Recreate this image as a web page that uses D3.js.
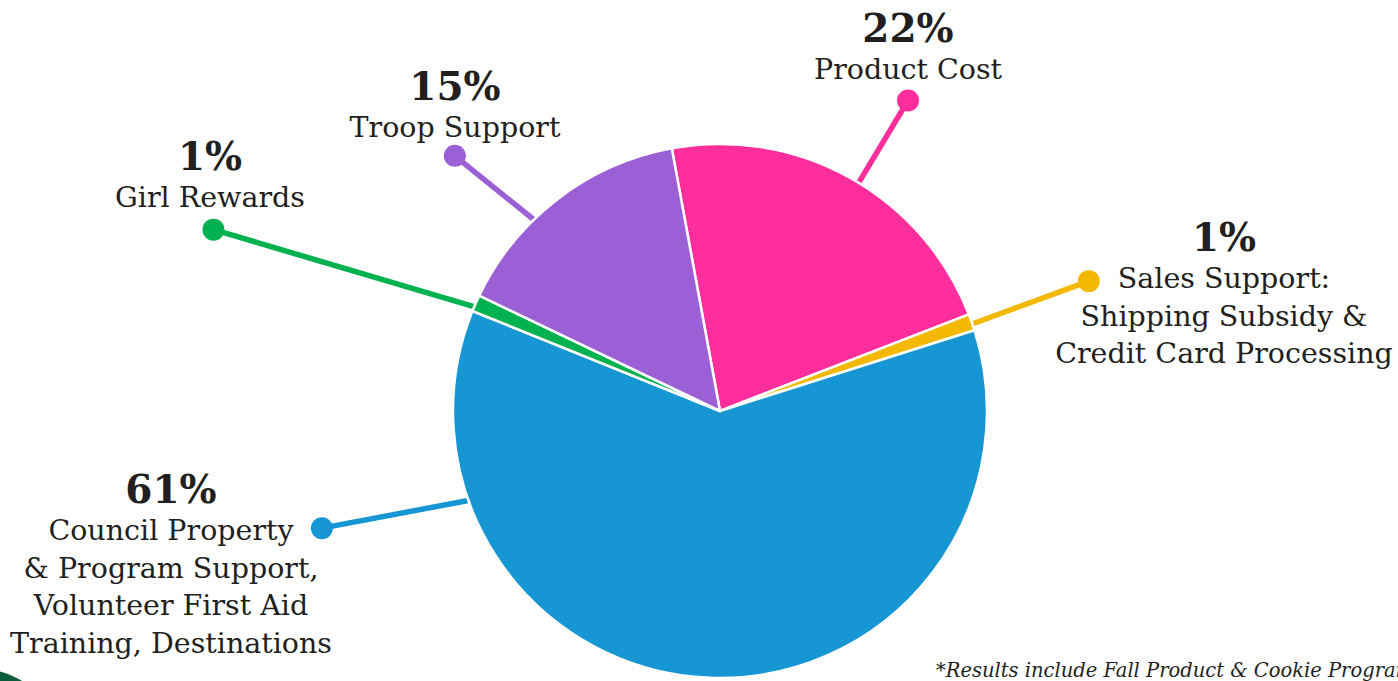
<!DOCTYPE html>
<html>
<head>
<meta charset="utf-8">
<script src="https://cdn.jsdelivr.net/npm/d3@7"></script>
<style>
  html, body { margin: 0; padding: 0; background: #fff; overflow: hidden; }
  svg { display: block; }
</style>
</head>
<body>
<script>
const categories = ['Product Cost', 'Sales Support', 'Council Property', 'Girl Rewards', 'Troop Support'];
const values = [22, 1, 61, 1, 15];
const percentLabels = ['22%', '1%', '61%', '1%', '15%'];
const labelLines = [
  ['Product Cost'],
  ['Sales Support:', 'Shipping Subsidy &', 'Credit Card Processing'],
  ['Council Property', '& Program Support,', 'Volunteer First Aid', 'Training, Destinations'],
  ['Girl Rewards'],
  ['Troop Support']
];
const colors = ['#ff2e9c', '#f5b800', '#1796d4', '#00b14f', '#9b5fd6'];
const footnote = '*Results include Fall Product & Cookie Program';

const width = 1398;
const height = 681;
const cx = 720;
const cy = 411;
const radius = 267;

// leader line: [start angle, start r, dot angle, dot r] (degrees from 12 o'clock)
const leaders = [
  [31.3, 255, 31.2, 363],
  [71, 255, 70.6, 391],
  [-110, 255, -106.4, 415],
  [-66.7, 255, -70.3, 538],
  [-43.9, 255, -46.1, 368]
];
// label block anchor: centre x, baseline of the percentage
const labelPos = [
  [908, 42],
  [1224, 251],
  [171, 503],
  [210, 170],
  [455, 100]
];

const rad = d => d * Math.PI / 180;
const polar = (a, r) => [cx + r * Math.sin(rad(a)), cy - r * Math.cos(rad(a))];

const svg = d3.select('body').append('svg')
  .attr('width', width)
  .attr('height', height);

// dark green corner shape bottom-left
svg.append('circle')
  .attr('cx', -25)
  .attr('cy', 760)
  .attr('r', 92)
  .attr('fill', '#0c5c3c');

const lines = svg.append('g');
leaders.forEach((l, i) => {
  const p0 = polar(l[0], l[1]);
  const p1 = polar(l[2], l[3]);
  lines.append('line')
    .attr('x1', p0[0]).attr('y1', p0[1])
    .attr('x2', p1[0]).attr('y2', p1[1])
    .attr('stroke', colors[i])
    .attr('stroke-width', 5.5);
  lines.append('circle')
    .attr('cx', p1[0]).attr('cy', p1[1])
    .attr('r', 11)
    .attr('fill', colors[i]);
});

const start = rad(-10.4);
const pie = d3.pie()
  .sort(null)
  .value(d => d)
  .startAngle(start)
  .endAngle(start + 2 * Math.PI);

const arc = d3.arc().innerRadius(0).outerRadius(radius);

svg.append('g')
  .attr('transform', `translate(${cx},${cy})`)
  .selectAll('path')
  .data(pie(values))
  .join('path')
    .attr('d', arc)
    .attr('fill', (d, i) => colors[i])
    .attr('stroke', '#fff')
    .attr('stroke-width', 2.5)
    .attr('stroke-linejoin', 'round');

const labels = svg.append('g')
  .attr('font-family', '"DejaVu Serif", serif')
  .attr('fill', '#231f20')
  .attr('text-anchor', 'middle');

categories.forEach((c, i) => {
  const [x, y] = labelPos[i];
  labels.append('text')
    .attr('x', x).attr('y', y)
    .attr('font-size', 39)
    .attr('font-weight', 'bold')
    .text(percentLabels[i]);
  labelLines[i].forEach((t, j) => {
    labels.append('text')
      .attr('x', x).attr('y', y + 37 + j * 37.5)
      .attr('font-size', 28.5)
      .text(t);
  });
});

svg.append('text')
  .attr('x', 936)
  .attr('y', 677)
  .attr('font-family', '"DejaVu Serif", serif')
  .attr('font-style', 'italic')
  .attr('font-size', 19.5)
  .attr('fill', '#231f20')
  .text(footnote);
</script>
</body>
</html>
